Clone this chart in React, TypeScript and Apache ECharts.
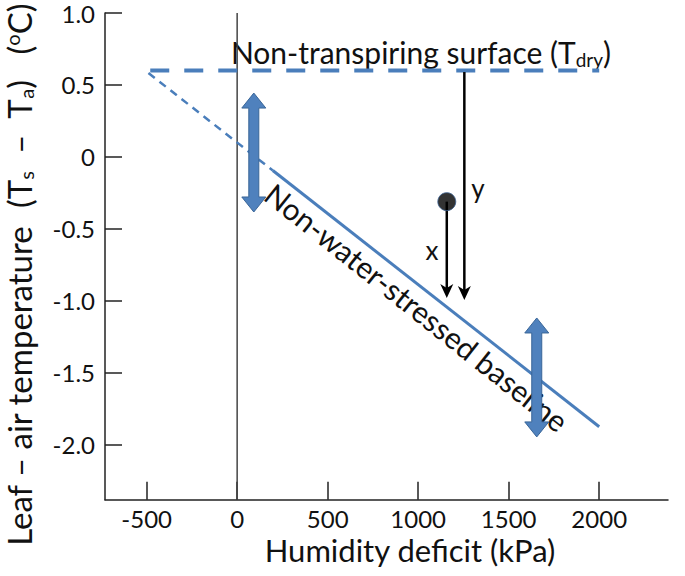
import React, { useEffect, useRef } from "react";
import * as echarts from "echarts";

const xTicks = [-500, 0, 500, 1000, 1500, 2000];
const yTicks = [-2, -1.5, -1, -0.5, 0, 0.5, 1];
const tdryLine = [[-480, 0.6], [2000, 0.6]];
const baselineExtension = [[-490, 0.583], [197, -0.094]];
const baselineSolid = [[197, -0.094], [2000, -1.873]];
const zeroLine = [[0, -2.38], [0, 1.0]];
const doubleArrows = [[92, 0.444, -0.382], [1655, -1.118, -1.944]];
const blackArrows = [[1158, -0.31, -0.979], [1255, 0.59, -0.993]];
const observedPoint = [[1158, -0.31]];

const FONT = "Lato";
const BLUE = "#4A7EBB";

export default function App() {
  const ref = useRef<HTMLDivElement>(null);
  useEffect(() => {
    document.body.style.margin = "0";
    const chart = echarts.init(ref.current!, undefined, { renderer: "svg" });
    const yLabelStyle = (text: string) => ({
      text,
      font: `33px ${FONT}`,
      fill: "#111",
      align: "center",
      verticalAlign: "middle",
      lineHeight: 33,
      rich: {
        sub: { fontSize: 20, fontFamily: FONT, padding: [14, 0, 0, 0] },
        sup: { fontSize: 20, fontFamily: FONT, padding: [0, 0, 14, 0] },
      },
    });
    const option: any = {
      animation: false,
      backgroundColor: "#fff",
      textStyle: { fontFamily: FONT },
      grid: { left: 105, right: 17, top: 13, bottom: 76.3, containLabel: false },
      xAxis: {
        type: "value",
        min: -730,
        max: 2380,
        splitLine: { show: false },
        axisLine: { onZero: false, lineStyle: { color: "#222", width: 1.5 } },
        axisTick: { inside: true, length: 18, customValues: xTicks, lineStyle: { color: "#222", width: 1.5 } },
        axisLabel: {
          customValues: xTicks,
          color: "#111",
          fontSize: 24,
          lineHeight: 22,
          fontFamily: FONT,
          margin: 8,
          formatter: (v: number) => String(v),
        },
      },
      yAxis: {
        type: "value",
        min: -2.38,
        max: 1.0,
        splitLine: { show: false },
        axisLine: { onZero: false, lineStyle: { color: "#222", width: 1.5 } },
        axisTick: { inside: true, length: 17, customValues: yTicks, lineStyle: { color: "#222", width: 1.5 } },
        axisLabel: {
          customValues: yTicks,
          color: "#111",
          fontSize: 24,
          fontFamily: FONT,
          margin: 10,
          formatter: (v: number) => (v === 0 ? "0" : v.toFixed(1)),
        },
      },
      series: [
        {
          type: "line",
          data: zeroLine,
          symbol: "none",
          lineStyle: { color: "#444", width: 1.5 },
          z: 1,
        },
        {
          type: "line",
          data: tdryLine,
          symbol: "none",
          lineStyle: { color: BLUE, width: 4, type: [19, 15] },
          z: 2,
        },
        {
          type: "line",
          data: baselineExtension,
          symbol: "none",
          lineStyle: { color: BLUE, width: 2.5, type: [8, 6] },
          z: 2,
        },
        {
          type: "line",
          data: baselineSolid,
          symbol: "none",
          lineStyle: { color: BLUE, width: 3 },
          z: 2,
        },
        {
          type: "custom",
          data: doubleArrows,
          z: 3,
          renderItem: (params: any, api: any) => {
            const x = api.value(0);
            const t = api.coord([x, api.value(1)]);
            const b = api.coord([x, api.value(2)]);
            const cx = t[0];
            const sh = 5, hh = 12, hl = 15;
            return {
              type: "polygon",
              shape: {
                points: [
                  [cx, t[1]], [cx + hh, t[1] + hl], [cx + sh, t[1] + hl], [cx + sh, b[1] - hl],
                  [cx + hh, b[1] - hl], [cx, b[1]], [cx - hh, b[1] - hl], [cx - sh, b[1] - hl],
                  [cx - sh, t[1] + hl], [cx - hh, t[1] + hl],
                ],
              },
              style: { fill: "#4F81BD", stroke: "#3A6698", lineWidth: 1 },
            };
          },
        },
        {
          type: "custom",
          data: blackArrows,
          z: 4,
          renderItem: (params: any, api: any) => {
            const x = api.value(0);
            const s = api.coord([x, api.value(1)]);
            const e = api.coord([x, api.value(2)]);
            const cx = s[0];
            const hw = 6.5, hl = 14;
            return {
              type: "group",
              children: [
                {
                  type: "line",
                  shape: { x1: cx, y1: s[1], x2: cx, y2: e[1] - 6 },
                  style: { stroke: "#000", lineWidth: 2.5 },
                },
                {
                  type: "polygon",
                  shape: {
                    points: [[cx, e[1]], [cx - hw, e[1] - hl], [cx, e[1] - hl + 4], [cx + hw, e[1] - hl]],
                  },
                  style: { fill: "#000" },
                },
              ],
            };
          },
        },
        {
          type: "scatter",
          data: observedPoint,
          symbol: "circle",
          symbolSize: 18,
          itemStyle: { color: "#000", borderColor: "#3A5F8F", borderWidth: 1 },
          z: 5,
        },
      ],
      graphic: [
        {
          type: "text",
          x: 19,
          y: 386,
          rotation: Math.PI / 2,
          style: yLabelStyle("Leaf – air temperature"),
        },
        {
          type: "text",
          x: 19,
          y: 144,
          rotation: Math.PI / 2,
          style: yLabelStyle("(T{sub|s}  –  T{sub|a})"),
        },
        {
          type: "text",
          x: 19,
          y: 29,
          rotation: Math.PI / 2,
          style: yLabelStyle("({sup|o}C)"),
        },
        {
          type: "text",
          x: 410,
          y: 550,
          style: {
            text: "Humidity deficit (kPa)",
            font: `31px ${FONT}`,
            lineHeight: 28,
            fill: "#111",
            align: "center",
            verticalAlign: "middle",
          },
        },
        {
          type: "text",
          x: 421,
          y: 52,
          style: {
            text: "Non-transpiring surface (T{sub|dry})",
            font: `30px ${FONT}`,
            fill: "#111",
            align: "center",
            verticalAlign: "middle",
            rich: {
              sub: { fontSize: 19, fontFamily: FONT, padding: [14, 0, 0, 0] },
            },
          },
        },
        {
          type: "text",
          x: 417,
          y: 307,
          rotation: (-38.5 * Math.PI) / 180,
          style: {
            text: "Non-water-stressed baseline",
            font: `30px ${FONT}`,
            fill: "#111",
            align: "center",
            verticalAlign: "middle",
          },
        },
        {
          type: "text",
          x: 432,
          y: 250,
          style: { text: "x", font: `26px ${FONT}`, fill: "#111", align: "center", verticalAlign: "middle" },
        },
        {
          type: "text",
          x: 478,
          y: 188,
          style: { text: "y", font: `26px ${FONT}`, fill: "#111", align: "center", verticalAlign: "middle" },
        },
      ],
    };
    chart.setOption(option);
    return () => chart.dispose();
  }, []);
  return <div ref={ref} style={{ width: 685, height: 576 }} />;
}
